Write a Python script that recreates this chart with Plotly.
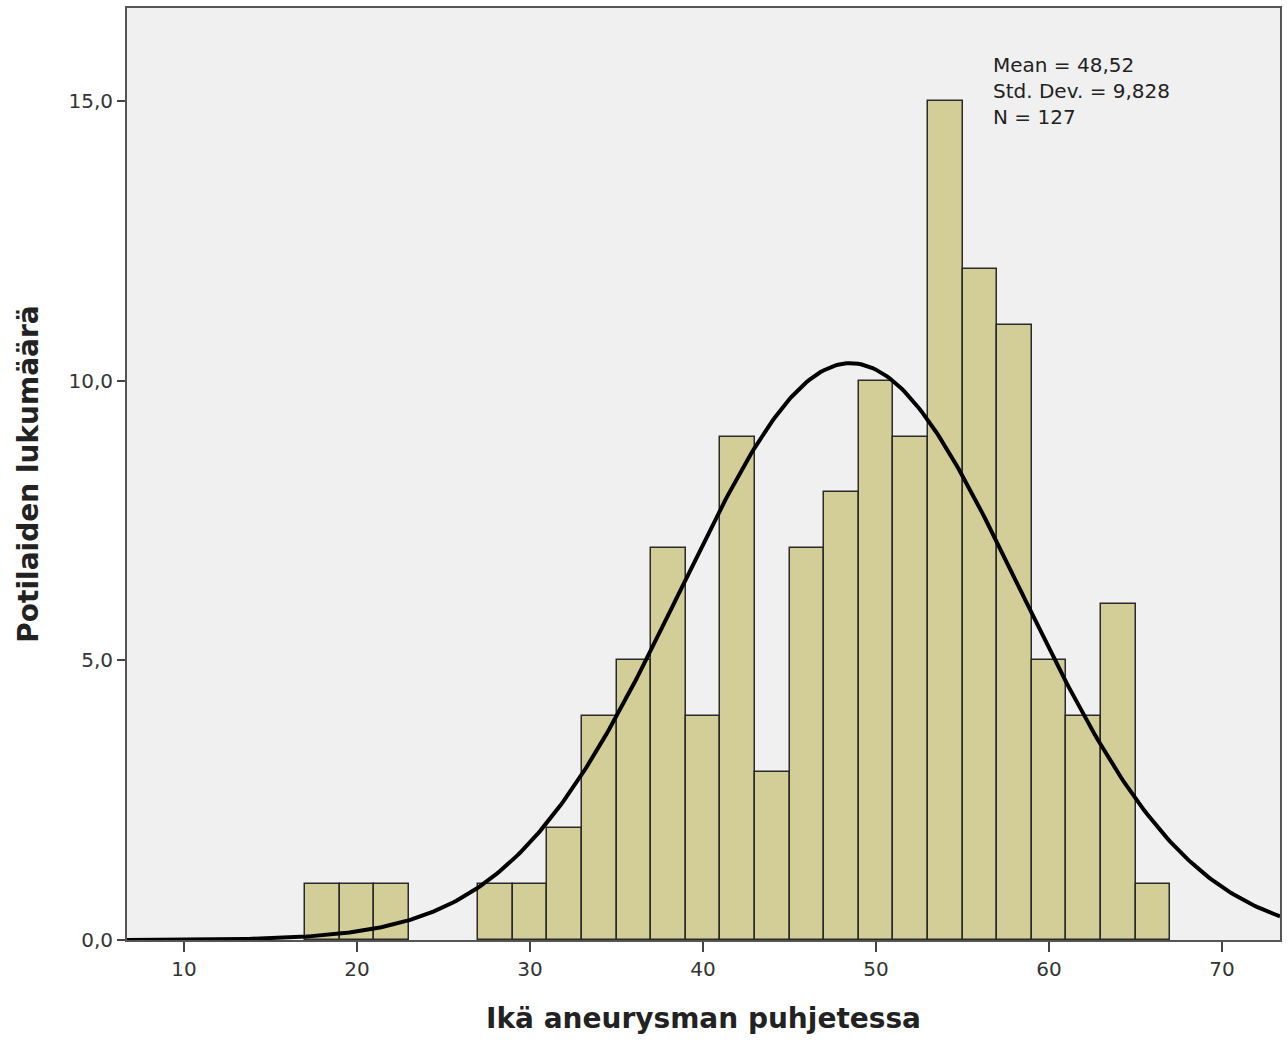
import numpy as np
import plotly.graph_objects as go

bin_centers = [18, 20, 22, 28, 30, 32, 34, 36, 38, 40, 42, 44, 46, 48, 50, 52, 54, 56, 58, 60, 62, 64, 66]
counts = [1, 1, 1, 1, 1, 2, 4, 5, 7, 4, 9, 3, 7, 8, 10, 9, 15, 12, 11, 5, 4, 6, 1]
bin_width = 2
mean_val = 48.52
std_val = 9.828
n_val = 127
x_ticks = [10, 20, 30, 40, 50, 60, 70]
y_ticks = [0, 5, 10, 15]

x_range = [6.7, 73.35]
y_range = [0, 16.66]

# Fitted normal curve defined by the displayed statistics
xc = np.linspace(x_range[0], x_range[1], 400)
yc = n_val * bin_width / (std_val * np.sqrt(2 * np.pi)) * np.exp(-0.5 * ((xc - mean_val) / std_val) ** 2)

fig = go.Figure()
fig.add_trace(go.Bar(
    x=bin_centers, y=counts, width=bin_width,
    marker=dict(color="#D3CE97", line=dict(color="#2a2a2a", width=1.5)),
    showlegend=False, hoverinfo="skip",
))
fig.add_trace(go.Scatter(
    x=xc, y=yc, mode="lines", line=dict(color="black", width=4),
    showlegend=False, hoverinfo="skip", cliponaxis=True,
))

fig.update_layout(
    width=1287, height=1041,
    margin=dict(l=127, r=5, t=8, b=101),
    paper_bgcolor="white", plot_bgcolor="#F0F0F0",
    separators=",.",
    bargap=0,
    font=dict(family="DejaVu Sans", color="#333333"),
    xaxis=dict(
        range=x_range, tickvals=x_ticks, ticks="outside", ticklen=10, tickwidth=2,
        tickcolor="#444444", showgrid=False, zeroline=False,
        showline=True, linecolor="#555555", linewidth=2, mirror=True,
        tickfont=dict(size=20, color="#333333"),
        title=dict(text="<b>Ikä aneurysman puhjetessa</b>", font=dict(size=28, color="#222222"), standoff=28),
    ),
    yaxis=dict(
        range=y_range, tickvals=y_ticks, tickformat=".1f", ticks="outside", ticklen=8, tickwidth=2,
        tickcolor="#444444", showgrid=False, zeroline=False,
        showline=True, linecolor="#555555", linewidth=2, mirror=True,
        tickfont=dict(size=20, color="#333333"),
        title=dict(text="<b>Potilaiden lukumäärä</b>", font=dict(size=28, color="#222222"), standoff=22),
    ),
    annotations=[dict(
        xref="paper", yref="paper", x=(992 - 127) / 1155, y=(940 - 51) / 932,
        xanchor="left", yanchor="top", align="left", showarrow=False,
        text=f"Mean = {str(mean_val).replace('.', ',')}<br>Std. Dev. = {str(std_val).replace('.', ',')}<br>N = {n_val}",
        font=dict(size=20, color="#222222", family="DejaVu Sans"),
    )],
)

fig.write_html("out.html")
